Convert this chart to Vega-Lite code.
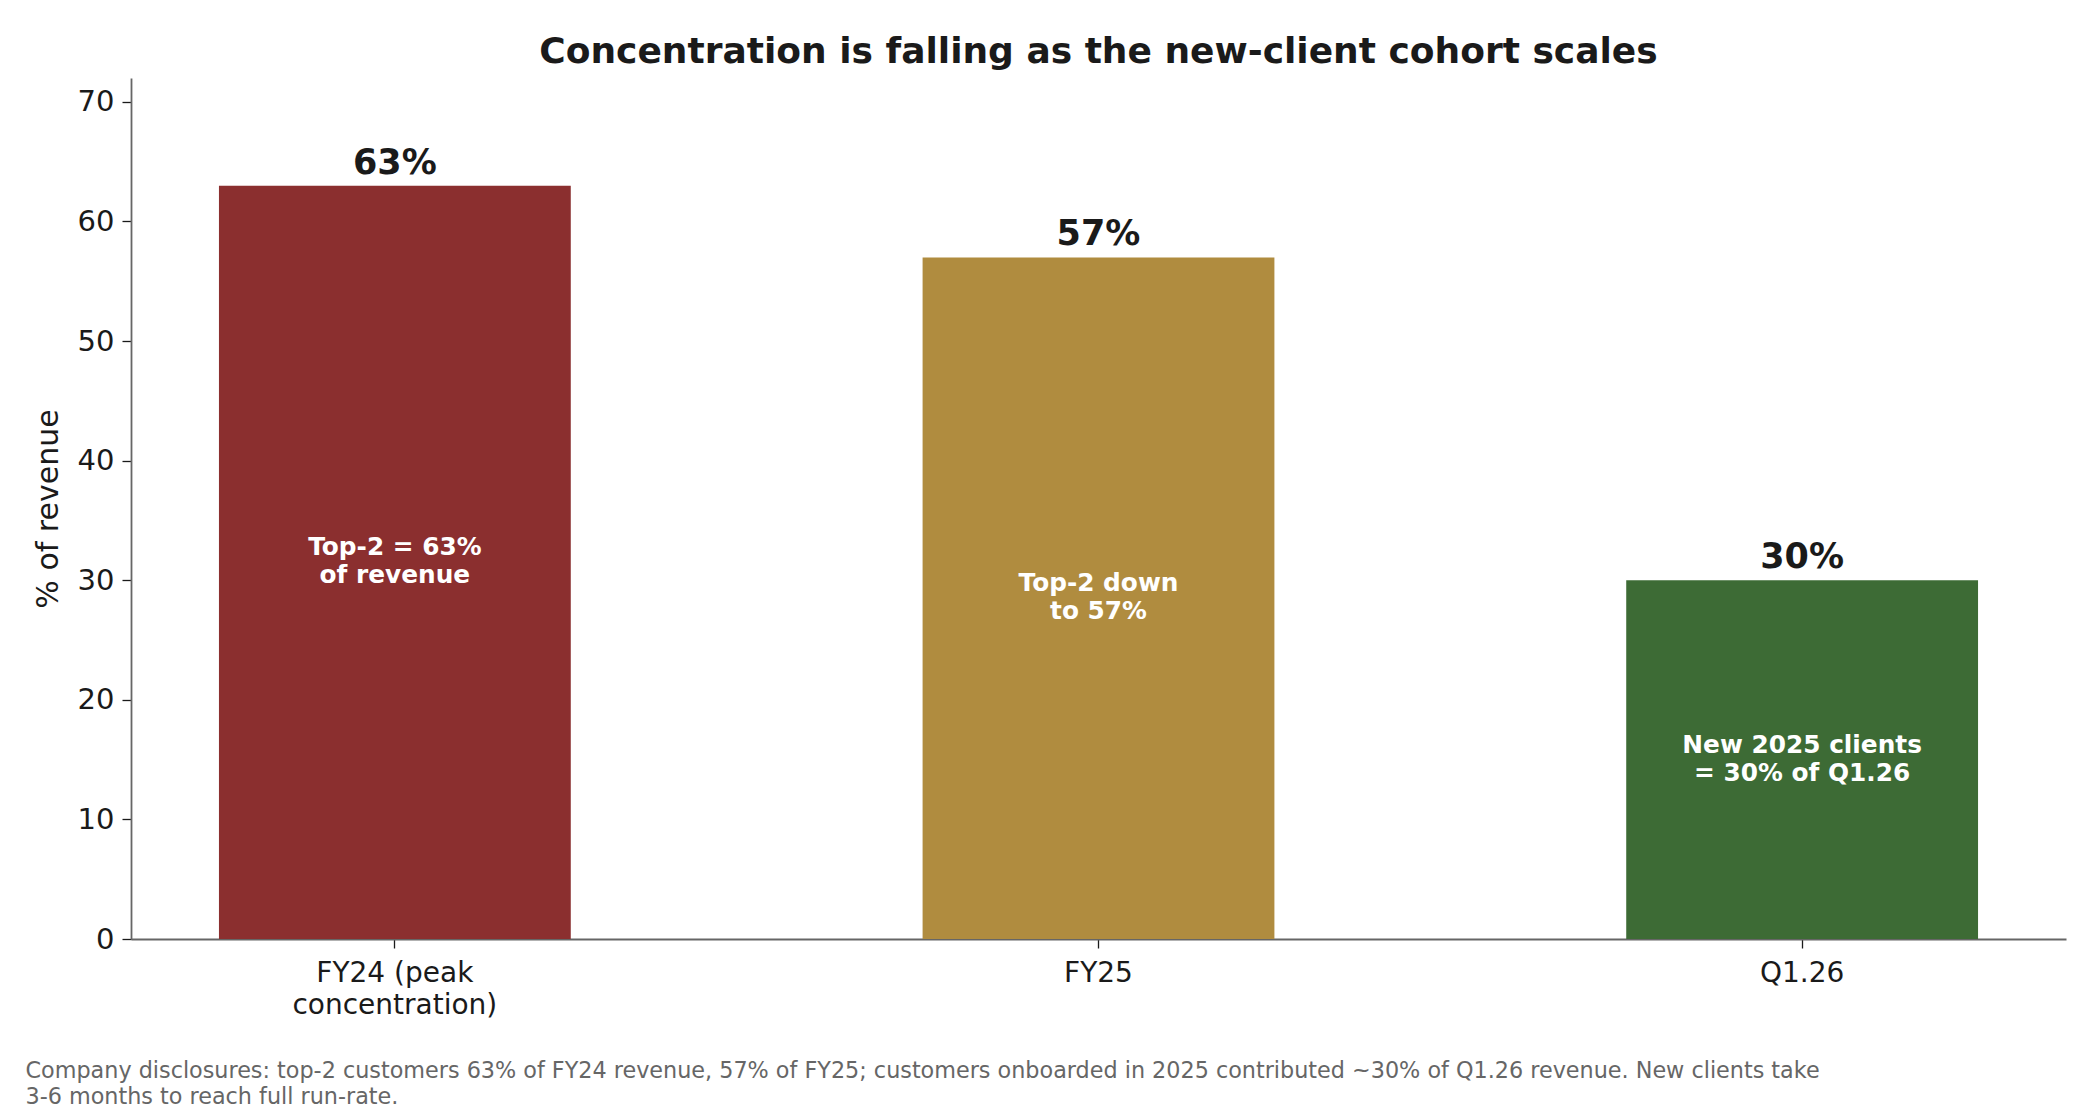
{
  "$schema": "https://vega.github.io/schema/vega-lite/v6.json",
  "autosize": {"type": "none"},
  "width": 1935,
  "height": 861,
  "padding": {"left": 131, "top": 78, "right": 34, "bottom": 181},
  "background": "white",
  "config": {
    "view": {"stroke": null},
    "font": "DejaVu Sans",
    "axis": {"grid": false}
  },
  "title": {
    "text": "Concentration is falling as the new-client cohort scales",
    "fontSize": 36,
    "fontWeight": "bold",
    "color": "#1a1a1a",
    "anchor": "middle",
    "offset": 7
  },
  "data": {
    "values": [
      {"period": "FY24 (peak concentration)", "value": 63, "label": "63%", "note": ["Top-2 = 63%", "of revenue"]},
      {"period": "FY25", "value": 57, "label": "57%", "note": ["Top-2 down", "to 57%"]},
      {"period": "Q1.26", "value": 30, "label": "30%", "note": ["New 2025 clients", "= 30% of Q1.26"]}
    ]
  },
  "encoding": {
    "x": {
      "field": "period",
      "type": "nominal",
      "sort": null,
      "scale": {"paddingInner": 0.5, "paddingOuter": 0.125},
      "axis": {
        "labelAngle": 0,
        "labelFontSize": 28,
        "labelColor": "#1a1a1a",
        "labelLineHeight": 32,
        "labelPadding": 11,
        "labelLimit": 0,
        "labelExpr": "datum.value == 'FY24 (peak concentration)' ? ['FY24 (peak', 'concentration)'] : datum.value",
        "tickSize": 9,
        "tickWidth": 1.3,
        "tickColor": "#1a1a1a",
        "domainColor": "#666666",
        "domainWidth": 1.8,
        "title": [
          "Company disclosures: top-2 customers 63% of FY24 revenue, 57% of FY25; customers onboarded in 2025 contributed ~30% of Q1.26 revenue. New clients take",
          "3-6 months to reach full run-rate."
        ],
        "titleFontSize": 22.3,
        "titleFontWeight": "normal",
        "titleColor": "#666666",
        "titleAnchor": "start",
        "titleAlign": "left",
        "titleBaseline": "alphabetic",
        "titleLineHeight": 26,
        "titleX": -106,
        "titleY": 138
      }
    }
  },
  "layer": [
    {
      "mark": {"type": "bar"},
      "encoding": {
        "y": {
          "field": "value",
          "type": "quantitative",
          "scale": {"domain": [0, 72], "nice": false},
          "axis": {
            "values": [0, 10, 20, 30, 40, 50, 60, 70],
            "labelFontSize": 29,
            "labelColor": "#1a1a1a",
            "labelPadding": 8,
            "tickSize": 9,
            "tickWidth": 1.3,
            "tickColor": "#1a1a1a",
            "domainColor": "#666666",
            "domainWidth": 1.8,
            "title": "% of revenue",
            "titleFontSize": 30,
            "titleFontWeight": "normal",
            "titleColor": "#1a1a1a",
            "titlePadding": 14
          }
        },
        "color": {
          "field": "period",
          "type": "nominal",
          "sort": null,
          "scale": {
            "domain": ["FY24 (peak concentration)", "FY25", "Q1.26"],
            "range": ["#8b2f2f", "#b08c3f", "#3d6b35"]
          },
          "legend": null
        }
      }
    },
    {
      "mark": {"type": "text", "fontSize": 35, "fontWeight": "bold", "color": "#1a1a1a", "baseline": "alphabetic", "dy": -12},
      "encoding": {
        "y": {"field": "value", "type": "quantitative", "scale": {"domain": [0, 72], "nice": false}, "axis": null},
        "text": {"field": "label"}
      }
    },
    {
      "mark": {"type": "text", "fontSize": 24.8, "fontWeight": "bold", "color": "white", "baseline": "middle", "lineHeight": 28, "dy": -14},
      "encoding": {
        "y": {"field": "value", "type": "quantitative", "scale": {"domain": [0, 144], "nice": false}, "axis": null},
        "text": {"field": "note"}
      }
    }
  ],
  "resolve": {"scale": {"y": "independent"}}
}
